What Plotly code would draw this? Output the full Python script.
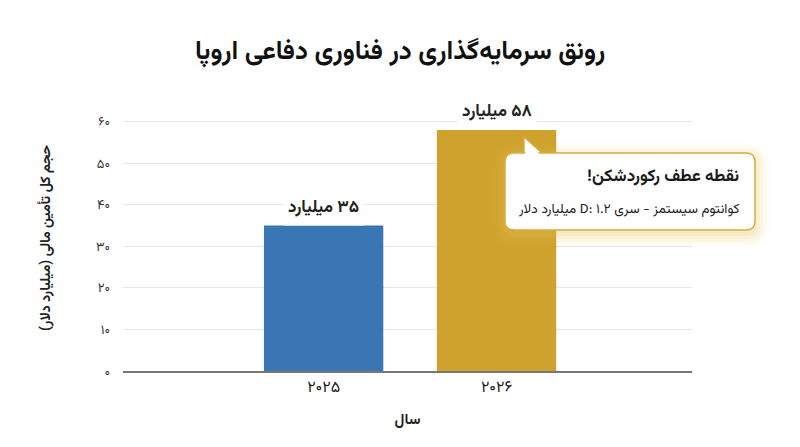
import plotly.graph_objects as go

# data
years = ["۲۰۲۵", "۲۰۲۶"]
funding = [35, 58]
bar_labels = ["۳۵ میلیارد", "۵۸ میلیارد"]
bar_colors = ["#3a76b4", "#cfa22e"]
y_ticks = [0, 10, 20, 30, 40, 50, 60]
y_ticktext = ["۰", "۱۰", "۲۰", "۳۰", "۴۰", "۵۰", "۶۰"]

title = "رونق سرمایه‌گذاری در فناوری دفاعی اروپا"
y_title = "حجم کل تأمین مالی (میلیارد دلار)"
x_title = "سال"
callout_head = "نقطه عطف رکوردشکن!"
callout_body = "کوانتوم سیستمز - سری D: ۱.۲ میلیارد دلار"

FONT = "Vazirmatn, DejaVu Sans, sans-serif"
# page body has an 8px margin, so the figure is sized to the rest of the window
OFF = 8
W, H = 800 - OFF, 447 - OFF
L, R, T, B = 123 - OFF, 108, 105 - OFF, 76


def rtl(s):
    # force right-to-left embedding inside svg text
    return "\u202b" + s + "\u202c"


def px(x):
    # window pixel -> paper x
    return (x - OFF - L) / (W - L - R)


def py(y):
    # window pixel -> paper y
    return (H - B - (y - OFF)) / (H - T - B)


def round_rect(x0, y0, x1, y1, r):
    rx = r / (W - L - R)
    ry = r / (H - T - B)
    a, b, c, d = px(x0), py(y0), px(x1), py(y1)
    return (f"M {a+rx},{b} L {c-rx},{b} Q {c},{b} {c},{b-ry} "
            f"L {c},{d+ry} Q {c},{d} {c-rx},{d} L {a+rx},{d} "
            f"Q {a},{d} {a},{d+ry} L {a},{b-ry} Q {a},{b} {a+rx},{b} Z")


fig = go.Figure()
fig.add_trace(go.Bar(
    x=list(range(len(years))), y=funding,
    marker=dict(color=bar_colors, line=dict(width=0)),
    width=0.69, hoverinfo="skip",
))

# value labels above bars, white background breaks the gridline
for i, (v, lab) in enumerate(zip(funding, bar_labels)):
    fig.add_annotation(x=i, y=v, text="<b>" + rtl(lab) + "</b>", showarrow=False, yshift=18,
                       bgcolor="white", borderpad=4,
                       font=dict(family=FONT, size=17, color="#222"),
                       xref="x", yref="y")

# callout box with soft glow
shapes = []
for k, op in [(14, 0.04), (11, 0.05), (8, 0.07), (5, 0.09), (2, 0.12)]:
    shapes.append(dict(type="path", xref="paper", yref="paper",
                       path=round_rect(505 - k, 153 - k + 4, 755 + k, 230 + k + 4, 9 + k),
                       fillcolor=f"rgba(232,196,80,{op})", line=dict(width=0), layer="above"))
shapes.append(dict(type="path", xref="paper", yref="paper",
                   path=f"M {px(524)},{py(154)} L {px(524)},{py(137)} L {px(543)},{py(154)} Z",
                   fillcolor="white", line=dict(color="#d6ae3c", width=1.5), layer="above"))
shapes.append(dict(type="path", xref="paper", yref="paper",
                   path=round_rect(505, 153, 755, 230, 9),
                   fillcolor="white", line=dict(color="#d6ae3c", width=1.5), layer="above"))
shapes.append(dict(type="path", xref="paper", yref="paper",
                   path=f"M {px(525.2)},{py(155.5)} L {px(525.2)},{py(140)} L {px(541)},{py(155.5)} Z",
                   fillcolor="white", line=dict(width=0), layer="above"))

fig.add_annotation(xref="paper", yref="paper", x=px(741), y=py(177), xanchor="right",
                   yanchor="middle", text="<b>" + rtl(callout_head) + "</b>", showarrow=False,
                   font=dict(family=FONT, size=17, color="#1a1a1a"))
fig.add_annotation(xref="paper", yref="paper", x=px(741), y=py(209), xanchor="right",
                   yanchor="middle", text=rtl(callout_body), showarrow=False,
                   font=dict(family=FONT, size=13.5, color="#222"))

fig.update_layout(
    width=W, height=H,
    margin=dict(l=L, r=R, t=T, b=B),
    paper_bgcolor="white", plot_bgcolor="white",
    showlegend=False,
    shapes=shapes,
    title=dict(text="<b>" + rtl(title) + "</b>", x=px(400), xref="paper", xanchor="center",
               y=1 - (50 - OFF) / H, yanchor="middle",
               font=dict(family=FONT, size=26, color="#111")),
    xaxis=dict(
        tickmode="array", tickvals=list(range(len(years))), ticktext=years,
        range=[-1.16, 2.13], showgrid=False, zeroline=False,
        showline=True, linecolor="#777", linewidth=1.5,
        tickfont=dict(family=FONT, size=16, color="#222"),
        title=dict(text="<b>" + x_title + "</b>", standoff=14,
                   font=dict(family=FONT, size=15, color="#222")),
    ),
    yaxis=dict(
        range=[0, 64], tickmode="array", tickvals=y_ticks, ticktext=y_ticktext,
        showgrid=True, gridcolor="#e6e6e6", gridwidth=1,
        zeroline=False, showline=False,
        ticklabelstandoff=12,
        tickfont=dict(family=FONT, size=13, color="#333"),
        title=dict(text="<b>" + rtl(y_title) + "</b>", standoff=42,
                   font=dict(family=FONT, size=14, color="#222")),
    ),
)

fig.write_html("out.html")
